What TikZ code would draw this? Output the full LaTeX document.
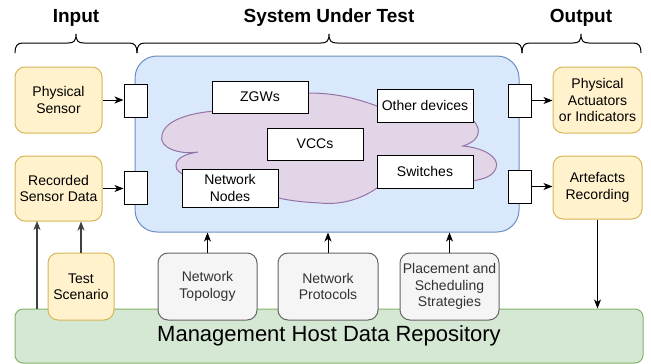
\documentclass[tikz,border=0pt]{standalone}
\usepackage{fontspec}
\setmainfont{Liberation Sans}
\usetikzlibrary{arrows.meta}
\definecolor{yfill}{HTML}{FFF2CC}
\definecolor{ydraw}{HTML}{D6B656}
\definecolor{gfill}{HTML}{F5F5F5}
\definecolor{gdraw}{HTML}{666666}
\definecolor{gtext}{HTML}{333333}
\definecolor{grfill}{HTML}{D5E8D4}
\definecolor{grdraw}{HTML}{82B366}
\definecolor{bfill}{HTML}{DAE8FC}
\definecolor{bdraw}{HTML}{6C8EBF}
\definecolor{pfill}{HTML}{E1D5E7}
\definecolor{pdraw}{HTML}{9673A6}
\tikzset{
  txt/.style={font=\fontsize{14}{16.5}\selectfont, align=center, inner sep=1pt},
  ybox/.style={txt, draw=ydraw, fill=yfill, rounded corners=10pt, line width=1pt},
  gbox/.style={txt, draw=gdraw, fill=gfill, text=gtext, rounded corners=10pt, line width=1pt},
  wbox/.style={txt, draw=black, fill=white, line width=1pt},
  port/.style={draw=black, fill=white, line width=1pt, minimum width=23pt, minimum height=33pt, inner sep=0pt},
  title/.style={font=\fontsize{19}{23}\selectfont\bfseries},
  arr/.style={draw=black, line width=1pt, -{Stealth[length=9pt,width=7pt,inset=2.5pt]}},
  garr/.style={draw=black!75, line width=1.2pt, -{Stealth[length=9pt,width=7pt,inset=2.5pt]}},
  brc/.style={draw=black, line width=1pt}
}
\begin{document}
\begin{tikzpicture}[x=1pt,y=-1pt]
\useasboundingbox (0,0) rectangle (651,364);

% titles
\node[title] (tin) at (76,18) {Input};
\node[title] (tsut) at (329,18) {System Under Test};
\node[title] (tout) at (581,18) {Output};

% braces
\draw[brc] (15,53) .. controls (15,46) and (17,43) .. (23,43) -- (68,43) .. controls (74,43) and (76,41) .. (76,34) .. controls (76,41) and (78,43) .. (84,43) -- (129,43) .. controls (135,43) and (137,46) .. (137,53);
\draw[brc] (137,53) .. controls (137,46) and (139,43) .. (145,43) -- (321,43) .. controls (327,43) and (329,41) .. (329,34) .. controls (329,41) and (331,43) .. (337,43) -- (514,43) .. controls (520,43) and (522,46) .. (522,53);
\draw[brc] (522,53) .. controls (522,46) and (524,43) .. (530,43) -- (573,43) .. controls (579,43) and (581,41) .. (581,34) .. controls (581,41) and (583,43) .. (589,43) -- (633,43) .. controls (639,43) and (641,46) .. (641,53);

% repository
\node[txt, draw=grdraw, fill=grfill, rounded corners=8pt, line width=1pt, minimum width=628pt, minimum height=54pt, font=\fontsize{22}{26}\selectfont] (repo) at (329,336) {Management Host Data Repository};

% system under test
\node[draw=bdraw, fill=bfill, rounded corners=22pt, line width=1pt, minimum width=384pt, minimum height=176pt] (sut) at (327,144) {};

% cloud
\draw[draw=pdraw, fill=pfill, line width=1pt]
  (198,152) .. controls (180,155) and (158,148) .. (162,135)
  .. controls (165,120) and (190,113) .. (215,111)
  .. controls (240,100) and (280,93) .. (308,93)
  .. controls (335,93) and (355,98) .. (377,106)
  .. controls (420,100) and (470,105) .. (478,128)
  .. controls (480,138) and (472,143) .. (463,146)
  .. controls (485,148) and (500,158) .. (496,168)
  .. controls (493,176) and (485,179) .. (472,181)
  .. controls (440,188) and (400,186) .. (377,188)
  .. controls (360,200) and (340,205) .. (320,203)
  .. controls (300,202) and (285,200) .. (275,197)
  .. controls (240,192) and (175,180) .. (176,166)
  .. controls (176,158) and (185,154) .. (198,152) -- cycle;

% inner boxes
\node[wbox, minimum width=96pt, minimum height=32pt] (zgw) at (260,97) {ZGWs};
\node[wbox, minimum width=96pt, minimum height=33pt] (oth) at (425,105.5) {Other devices};
\node[wbox, minimum width=96pt, minimum height=32pt] (vcc) at (315,144) {VCCs};
\node[wbox, minimum width=96pt, minimum height=33pt] (sw) at (425,171.5) {Switches};
\node[wbox, minimum width=96pt, minimum height=38pt] (nn) at (230,188) {Network\\Nodes};

% ports
\node[port] (pl1) at (135.5,100.5) {};
\node[port] (pl2) at (135.5,188) {};
\node[port] (pr1) at (519.5,100.5) {};
\node[port] (pr2) at (519.5,186.5) {};

% input / output boxes
\node[ybox, minimum width=87pt, minimum height=66pt] (ps) at (58.5,100) {Physical\\Sensor};
\node[ybox, minimum width=87pt, minimum height=65pt] (rsd) at (58.5,188.5) {Recorded\\Sensor Data};
\node[ybox, minimum width=89pt, minimum height=66pt] (pa) at (597.5,100) {Physical\\Actuators\\or Indicators};
\node[ybox, minimum width=89pt, minimum height=63pt] (ar) at (597.5,187.5) {Artefacts\\Recording};

% bottom boxes
\node[ybox, minimum width=66pt, minimum height=67pt] (ts) at (81,286.5) {Test\\Scenario};
\node[gbox, minimum width=99pt, minimum height=67pt] (nt) at (207.5,286.5) {Network\\Topology};
\node[gbox, minimum width=100pt, minimum height=67pt] (np) at (328,286.5) {Network\\Protocols};
\node[gbox, minimum width=99pt, minimum height=67pt] (pl) at (449.5,286.5) {Placement and\\Scheduling\\Strategies};

% connectors
\draw[arr] (ps.east) -- (ps.east -| pl1.west);
\draw[arr] (rsd.east) -- (rsd.east -| pl2.west);
\draw[arr] (pr1.east) -- (pr1.east -| pa.west);
\draw[arr] (pr2.east) -- (pr2.east -| ar.west);
\coordinate (g1) at (37,221);
\draw[garr] (g1 |- repo.north) -- (g1);
\draw[garr] (ts.north) -- (ts.north |- rsd.south);
\draw[arr] (nt.north) -- (nt.north |- sut.south);
\draw[arr] (np.north) -- (np.north |- sut.south);
\draw[arr] (pl.north) -- (pl.north |- sut.south);
\draw[arr] (ar.south) -- (ar.south |- repo.north);
\end{tikzpicture}
\end{document}
